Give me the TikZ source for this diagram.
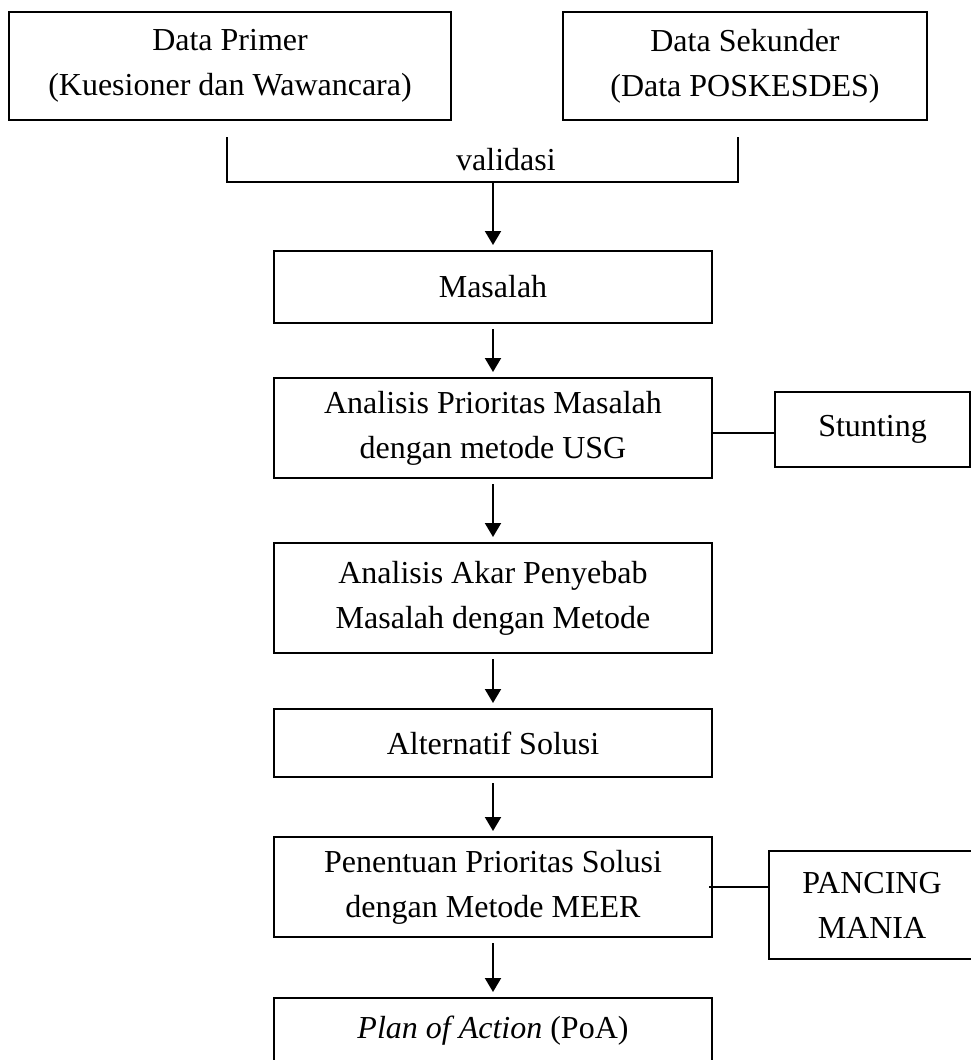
\documentclass[tikz,border=0pt]{standalone}
\usepackage{fontspec}
\setmainfont{Liberation Serif}
\usetikzlibrary{arrows.meta}
\begin{document}
\begin{tikzpicture}[x=1pt,y=-1pt,
  box/.style={draw, line width=2pt, align=center, inner sep=0pt,
    font=\fontsize{32pt}{45pt}\selectfont},
  link/.style={line width=2pt},
  flow/.style={line width=2pt, -{Triangle[width=16pt,length=14pt]},
    shorten <=5pt, shorten >=5pt}]
\useasboundingbox (0,0) rectangle (971,1060);
\begin{scope}
\clip (0,0) rectangle (971,1060);

% data sources
\node[box, minimum width=442pt, minimum height=108pt] (prim) at (230,66)
  {Data Primer\\(Kuesioner dan Wawancara)};
\node[box, minimum width=364pt, minimum height=108pt] (sek) at (745,66)
  {Data Sekunder\\(Data POSKESDES)};

% validation bracket
\coordinate (vl) at (227,137);
\coordinate (vr) at (738,137);
\coordinate (vj) at (493,182);
\draw[link] (vl) -- (vl |- vj) -- (vr |- vj) -- (vr);
\node[font=\fontsize{32pt}{45pt}\selectfont, anchor=base, inner sep=0pt] (val) at (506,170) {validasi};

% main flow
\node[box, minimum width=438pt, minimum height=72pt]  (mas)  at (493,287) {Masalah};
\node[box, minimum width=438pt, minimum height=100pt] (pri)  at (493,428)
  {Analisis Prioritas Masalah\\dengan metode USG};
\node[box, minimum width=438pt, minimum height=110pt] (akar) at (493,598)
  {Analisis Akar Penyebab\\Masalah dengan Metode};
\node[box, minimum width=438pt, minimum height=68pt]  (alt)  at (493,743) {Alternatif Solusi};
\node[box, minimum width=438pt, minimum height=100pt] (pen)  at (493,887)
  {Penentuan Prioritas Solusi\\dengan Metode MEER};
\node[box, minimum width=438pt, minimum height=66pt]  (poa)  at (493,1031)
  {\textit{Plan of Action} (PoA)};

% side boxes
\node[box, minimum width=195pt, minimum height=75pt]  (stu) at (872.5,429.5) {Stunting};
\node[box, minimum width=206pt, minimum height=108pt] (pan) at (872,905) {PANCING\\MANIA};

% connectors
\draw[flow, shorten <=0pt] (vj) -- (vj |- mas.north);
\draw[flow] (mas) -- (pri);
\draw[flow] (pri) -- (akar);
\draw[flow] (akar) -- (alt);
\draw[flow] (alt) -- (pen);
\draw[flow] (pen) -- (poa);
\draw[link] ([yshift=-5pt]pri.east) -- ([yshift=-5pt]pri.east -| stu.west);
\draw[link] ([xshift=-4pt]pen.east) -- (pen.east -| pan.west);
\end{scope}
\end{tikzpicture}
\end{document}
